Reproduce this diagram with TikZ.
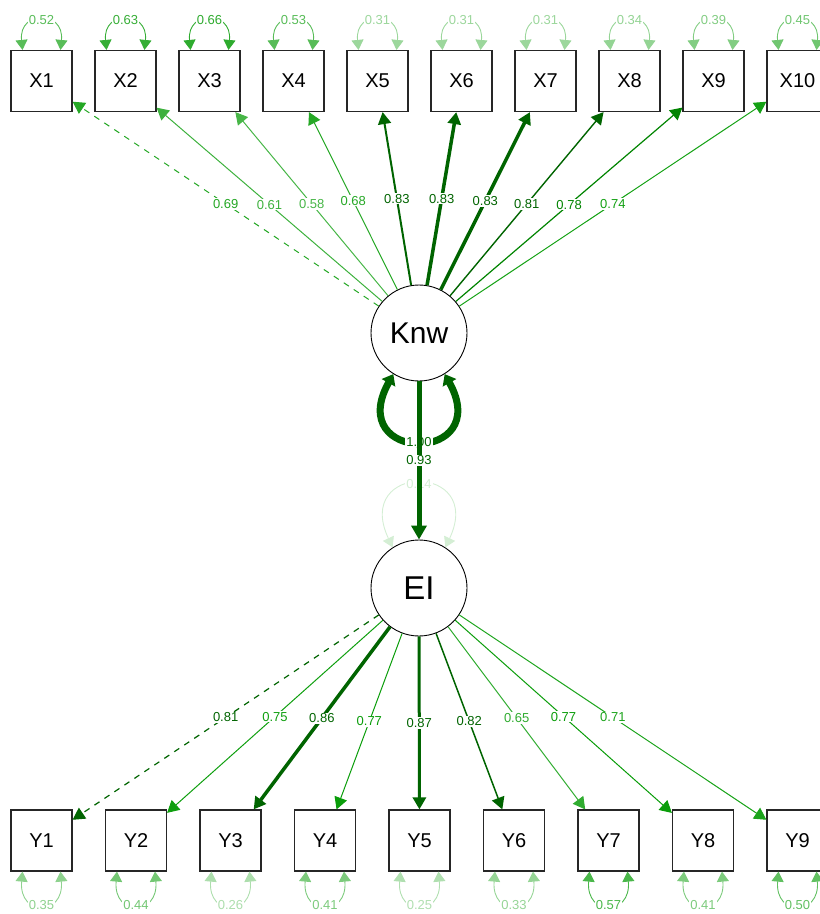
\documentclass[tikz,border=0pt]{standalone}
\usepackage{fontspec}
\setmainfont{Liberation Sans}
\usetikzlibrary{arrows.meta,calc}

\definecolor{semgreen}{HTML}{009900}
\definecolor{semdark}{HTML}{006400}

\begin{document}
\begin{tikzpicture}[x=1pt,y=-1pt,
  manifest/.style={draw=black!85, line width=1.2pt, minimum size=61pt, inner sep=0pt,
                   font=\fontsize{20}{20}\selectfont},
  latent/.style={circle, draw=black, line width=0.9pt, minimum size=96pt, inner sep=0pt},
  elabel/.style={fill=white, inner sep=1pt, text=#1, font=\fontsize{13}{13}\selectfont},
  load/.style={-{Triangle[length=12pt,width=13pt]}},
  resid/.style={{Triangle[length=10pt,width=12pt]}-{Triangle[length=10pt,width=12pt]}, line width=0.9pt},
]
\useasboundingbox (0,0) rectangle (820,914);
\clip (0,0) rectangle (820,914);

% latent variables
\node[latent, font=\fontsize{30}{30}\selectfont] (knw) at (419,333) {Knw};
\node[latent, font=\fontsize{33}{33}\selectfont] (ei)  at (419,588) {EI};

% indicators of Knw
\foreach \i in {1,...,10}
  \node[manifest] (x\i) at ({41.5+84*(\i-1)},81) {X\i};
% indicators of EI
\foreach \j in {1,...,9}
  \node[manifest] (y\j) at ({41.5+94.5*(\j-1)},840.5) {Y\j};

% residual variances of the X indicators
\foreach \i/\v/\p in {1/0.52/65, 2/0.63/79, 3/0.66/82, 4/0.53/66, 5/0.31/39,
                      6/0.31/39, 7/0.31/39, 8/0.34/42, 9/0.39/49, 10/0.45/56}
  \draw[resid, draw=semgreen!\p!white]
    ([xshift=-19pt]x\i.north) .. controls +(-4,-40) and +(4,-40) ..
    node[elabel=semgreen!\p!white] {\v} ([xshift=19pt]x\i.north);

% residual variances of the Y indicators
\foreach \j/\v/\p in {1/0.35/44, 2/0.44/55, 3/0.26/32, 4/0.41/51, 5/0.25/31,
                      6/0.33/41, 7/0.57/71, 8/0.41/51, 9/0.50/62}
  \draw[resid, draw=semgreen!\p!white]
    ([xshift=-19pt]y\j.south) .. controls +(-4,45) and +(4,45) ..
    node[elabel=semgreen!\p!white] {\v} ([xshift=19pt]y\j.south);

% variance of Knw
\draw[draw=semdark, line width=7pt,
      {Triangle[length=10pt,width=15pt]}-{Triangle[length=10pt,width=15pt]}]
  (knw.238) .. controls +(-50,90) and +(50,90) ..
  node[elabel=semdark] {1.00} (knw.302);

% residual variance of EI
\draw[resid, draw=semgreen!17!white]
  (ei.123) .. controls +(-40,-85) and +(40,-85) ..
  node[elabel=semgreen!17!white] {0.14} (ei.57);

% loadings on Knw
\draw[load, draw=semgreen!86!white, line width=1pt, dash pattern=on 6pt off 6pt]
  (knw) -- node[elabel=semgreen!86!white] {0.69} (x1);
\draw[load, draw=semgreen!76!white, line width=1pt]
  (knw) -- node[elabel=semgreen!76!white] {0.61} (x2);
\draw[load, draw=semgreen!72!white, line width=1pt]
  (knw) -- node[elabel=semgreen!72!white] {0.58} (x3);
\draw[load, draw=semgreen!85!white, line width=1pt]
  (knw) -- node[elabel=semgreen!85!white] {0.68} (x4);
\draw[load, draw=semdark, line width=2pt]
  (knw) -- node[elabel=semdark] {0.83} (x5);
\draw[load, draw=semdark, line width=3.5pt]
  (knw) -- node[elabel=semdark] {0.83} (x6);
\draw[load, draw=semdark, line width=3.5pt]
  (knw) -- node[elabel=semdark] {0.83} (x7);
\draw[load, draw=semdark, line width=1.4pt]
  (knw) -- node[elabel=semdark] {0.81} (x8);
\draw[load, draw=semgreen!60!semdark, line width=1.2pt]
  (knw) -- node[elabel=semgreen!60!semdark] {0.78} (x9);
\draw[load, draw=semgreen!92!white, line width=1pt]
  (knw) -- node[elabel=semgreen!92!white] {0.74} (x10);

% structural path
\draw[draw=semdark, line width=5pt, -{Triangle[length=14pt,width=15pt]}]
  (knw) -- node[elabel=semdark] {0.93} (ei);

% loadings on EI
\draw[load, draw=semdark, line width=1.2pt, dash pattern=on 6pt off 6pt]
  (ei) -- node[elabel=semdark] {0.81} (y1);
\draw[load, draw=semgreen!94!white, line width=1pt]
  (ei) -- node[elabel=semgreen!94!white] {0.75} (y2);
\draw[load, draw=semdark, line width=3.5pt]
  (ei) -- node[elabel=semdark] {0.86} (y3);
\draw[load, draw=semgreen!96!white, line width=1pt]
  (ei) -- node[elabel=semgreen!96!white] {0.77} (y4);
\draw[load, draw=semdark, line width=3pt]
  (ei) -- node[elabel=semdark] {0.87} (y5);
\draw[load, draw=semdark, line width=1.5pt]
  (ei) -- node[elabel=semdark] {0.82} (y6);
\draw[load, draw=semgreen!81!white, line width=1pt]
  (ei) -- node[elabel=semgreen!81!white] {0.65} (y7);
\draw[load, draw=semgreen!96!white, line width=1pt]
  (ei) -- node[elabel=semgreen!96!white] {0.77} (y8);
\draw[load, draw=semgreen!89!white, line width=1pt]
  (ei) -- node[elabel=semgreen!89!white] {0.71} (y9);
\end{tikzpicture}
\end{document}
